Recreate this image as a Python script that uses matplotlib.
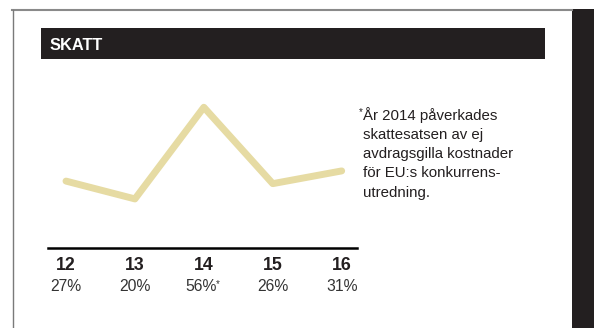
import matplotlib
matplotlib.use("Agg")
import matplotlib.pyplot as plt
from matplotlib.patches import Rectangle
from matplotlib.lines import Line2D
from matplotlib.transforms import blended_transform_factory, offset_copy

# ---- data ----
years = ["12", "13", "14", "15", "16"]
values = [27, 20, 56, 26, 31]
value_labels = ["27%", "20%", "56%", "26%", "31%"]
starred_index = 2
title = "SKATT"
footnote_lines = ["År 2014 påverkades", "skattesatsen av ej",
                  "avdragsgilla kostnader", "för EU:s konkurrens-",
                  "utredning."]

W, H = 594, 328
DARK = "#231f20"
LINE_COLOR = "#e6dba3"
plt.rcParams["font.family"] = ["Liberation Sans", "DejaVu Sans"]

fig = plt.figure(figsize=(W / 100, H / 100), dpi=100)
fig.patch.set_facecolor("white")

def fx(x):
    return x / W

def fy(y):
    return 1 - y / H

# frame
fig.add_artist(Line2D([fx(12), fx(572)], [fy(9.5), fy(9.5)], color="#8a8a8a", lw=1.5))
fig.add_artist(Line2D([fx(12.7), fx(12.7)], [fy(9.5), fy(328)], color="#7a7a7a", lw=1.0))
fig.add_artist(Rectangle((fx(572), 0), fx(594) - fx(572), fy(9), transform=fig.transFigure,
                         facecolor=DARK, edgecolor="none"))
fig.add_artist(Rectangle((fx(41), fy(59)), fx(545) - fx(41), fy(28) - fy(59),
                         transform=fig.transFigure, facecolor=DARK, edgecolor="none"))
fig.text(fx(49.5), fy(50.3), title, color="white", fontsize=11.8, fontweight="bold",
         ha="left", va="baseline")

# chart axes
ax_left, ax_right = 48.3, 356.7
ax_top, ax_bottom = 97.1, 248.3
ax = fig.add_axes([fx(ax_left), fy(ax_bottom), fx(ax_right) - fx(ax_left), fy(ax_top) - fy(ax_bottom)])
ax.set_facecolor("none")
xs = list(range(len(values)))
ax.plot(xs, values, color=LINE_COLOR, lw=5.0, solid_capstyle="round",
        solid_joinstyle="round", clip_on=False)
ax.set_xlim(-0.257, 4.218)
ax.set_ylim(0.6, 60)
for s in ["top", "left", "right"]:
    ax.spines[s].set_visible(False)
ax.spines["bottom"].set_color("black")
ax.spines["bottom"].set_linewidth(1.8)
ax.set_xticks([])
ax.set_yticks([])

tr = blended_transform_factory(ax.transData, ax.transAxes)
ah = ax_bottom - ax_top
for i, (yr, lab) in enumerate(zip(years, value_labels)):
    ax.text(i, (ax_bottom - 270) / ah, yr, transform=tr, ha="center", va="baseline",
            fontsize=12.8, fontweight="bold", color=DARK)
    if i == starred_index:
        t = ax.text(i, (ax_bottom - 291) / ah, lab,
                    transform=offset_copy(tr, fig=fig, x=-2.5, y=0, units="dots"),
                    ha="center", va="baseline", fontsize=11.3, color="#333333")
        ax.annotate("*", xy=(1, 1), xycoords=t, xytext=(-0.8, 0.3), textcoords="offset points",
                    ha="left", va="top", fontsize=7, color="#333333")
    else:
        ax.text(i, (ax_bottom - 291) / ah, lab, transform=tr, ha="center", va="baseline",
                fontsize=11.3, color="#333333")

# footnote
baselines = [120, 139.3, 158.3, 177.3, 196.6]
for line, b in zip(footnote_lines, baselines):
    fig.text(fx(363), fy(b), line, ha="left", va="baseline", fontsize=10.8, color=DARK)
fig.text(fx(362.5), fy(112), "*", ha="right", va="center", fontsize=7, color=DARK)

fig.savefig("out.png", dpi=100, facecolor="white")
